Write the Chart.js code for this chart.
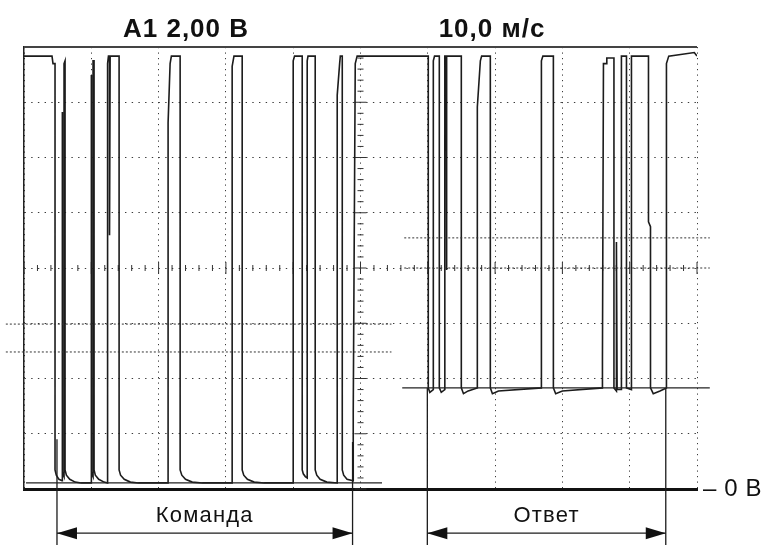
<!DOCTYPE html>
<html>
<head>
<meta charset="utf-8">
<script src="https://cdn.jsdelivr.net/npm/chart.js@4.4.1/dist/chart.umd.min.js"></script>
<style>
  html, body { margin:0; padding:0; background:#fff; }
  #wrap { width:764px; height:545px; }
</style>
</head>
<body>
<div id="wrap"><canvas id="scope" width="764" height="545"></canvas></div>
<script>
// time in ms (10 ms/div), voltage in V (2 V/div)
const sigT = [
 0, 4.16, 4.31, 4.61, 4.61, 4.8, 5.2, 5.65, 5.65, 5.75, 5.95, 5.95, 6.1, 6.1, 6.3, 6.8, 7.6, 8.5,
 9.96, 9.96, 10.06, 10.26, 10.26, 10.41, 10.41, 10.6, 11.1, 11.9,
 12.42, 12.42, 12.55, 12.71, 12.71, 12.8, 14.13, 14.13, 14.35, 14.9, 15.8, 17.0,
 21.41, 21.41, 21.71, 21.9, 23.2, 23.2, 23.45, 24.0, 25.0, 26.5,
 30.93, 30.93, 31.2, 32.42, 32.42, 32.65, 33.2, 34.2, 35.7,
 40.0, 40.0, 40.2, 41.34, 41.34, 41.5, 41.8, 42.08, 42.08, 42.2, 43.27, 43.27, 43.5, 44.0, 45.0,
 46.54, 46.54, 46.9, 47.0, 47.29, 47.29, 47.5, 48.0, 48.92, 48.92, 49.22, 49.5,
 60.07, 60.07, 60.3, 60.82, 60.82, 61.0, 61.71, 61.71, 62.0, 62.53, 62.53, 62.75, 62.75, 62.85,
 64.98, 64.98, 65.3, 66.0, 67.36, 67.36, 67.81, 68.0, 69.29, 69.29, 69.6, 70.5,
 76.88, 76.88, 77.1, 78.66, 78.66, 79.0, 80.0,
 85.95, 85.95, 86.1, 86.5, 86.6, 87.66, 87.66, 88.03, 88.03, 88.13, 88.77, 88.77, 89.52, 89.52,
 90.26, 90.26, 92.79, 92.79, 93.09, 93.09, 93.5, 94.5, 95.46, 95.46, 95.8, 99.6, 100.0
];
const sigV = [
 15.67, 15.67, 15.4, 15.4, 0.69, 0.5, 0.35, 0.3, 13.65, 0.6, 0.45, 15.4, 15.5, 0.69, 0.5, 0.35, 0.25, 0.22,
 0.22, 14.99, 0.6, 0.45, 15.5, 15.5, 0.69, 0.5, 0.35, 0.25,
 0.22, 15.4, 15.67, 15.67, 9.19, 15.67, 15.67, 0.69, 0.5, 0.35, 0.25, 0.22,
 0.22, 13.25, 15.4, 15.67, 15.67, 0.69, 0.5, 0.35, 0.25, 0.22,
 0.22, 15.3, 15.67, 15.67, 0.69, 0.5, 0.35, 0.25, 0.22,
 0.22, 15.5, 15.67, 15.67, 0.69, 0.55, 0.45, 0.4, 15.5, 15.67, 15.67, 0.69, 0.5, 0.35, 0.25,
 0.22, 14.26, 15.4, 15.67, 15.67, 0.69, 0.5, 0.35, 0.3, 2.78, 15.4, 15.67,
 15.67, 3.66, 3.5, 3.6, 15.5, 15.67, 15.67, 3.66, 3.5, 3.6, 15.67, 15.67, 7.93, 15.67,
 15.67, 3.66, 3.45, 3.55, 3.66, 13.83, 15.5, 15.67, 15.67, 3.66, 3.45, 3.55,
 3.66, 15.5, 15.67, 15.67, 3.66, 3.45, 3.55,
 3.66, 4.67, 15.4, 15.4, 15.6, 15.6, 3.66, 3.55, 8.94, 3.6, 3.6, 15.67, 15.67, 3.66,
 3.6, 15.67, 15.67, 9.67, 9.5, 3.66, 3.45, 3.55, 3.66, 15.4, 15.67, 15.8, 15.67
];

const cmdSpan = [4.9, 48.82];     // "Команда"
const ansSpan = [59.93, 95.36];   // "Ответ"
const cmdSpanTop = [1.8, 1.7];
const ansSpanTop = [3.66, 3.66];
const cmdLowV = 0.22;
const ansLowV = 3.66;
const cmdLowRange = [0.3, 53.2];
const ansLowRange = [56.2, 101.9];
const cmdCursorV = [5.97, 4.96];
const ansCursorV = [9.09, 8.0];
const cmdCursorRange = [-2.7, 54.6];
const ansCursorRange = [56.5, 101.9];
const arrowV = -1.6;
const labelV = -0.97;
const spanBottomV = -2.3;

const ink = '#1c1c1c';

function seg(x0, x1, y0, y1) { return [{x:x0, y:y0}, {x:x1, y:y1}]; }

const datasets = [];
datasets.push({ data: seg(0, 100, 16, 16), borderColor:'#444', borderWidth:2.2, clip:false });
datasets.push({ data: seg(cmdLowRange[0], cmdLowRange[1], cmdLowV, cmdLowV), borderColor:'#222', borderWidth:1.2, clip:false });
datasets.push({ data: seg(ansLowRange[0], ansLowRange[1], ansLowV, ansLowV), borderColor:'#222', borderWidth:1.2, clip:false });
cmdCursorV.forEach(v => datasets.push({ data: seg(cmdCursorRange[0], cmdCursorRange[1], v, v),
  borderColor:'#333', borderWidth:1, borderDash:[2,2], clip:false }));
ansCursorV.forEach(v => datasets.push({ data: seg(ansCursorRange[0], ansCursorRange[1], v, v),
  borderColor:'#333', borderWidth:1, borderDash:[2,2], clip:false }));
// span markers under the trace
[[cmdSpan, cmdSpanTop], [ansSpan, ansSpanTop]].forEach(([s, tops]) => {
  s.forEach((t, i) => datasets.push({ data: seg(t, t, tops[i], spanBottomV), borderColor:ink, borderWidth:1.3, clip:false }));
  datasets.push({ data: seg(s[0], s[1], arrowV, arrowV), borderColor:ink, borderWidth:1.3, clip:false });
});
datasets.push({ data: sigT.map((t, i) => ({x:t, y:sigV[i]})), borderColor:ink, borderWidth:1.6 });

const centerTicks = {
  id: 'centerTicks',
  beforeDatasetsDraw(chart) {
    const {ctx, scales:{x, y}} = chart;
    const cx = x.getPixelForValue(50), cy = y.getPixelForValue(8);
    ctx.save();
    ctx.strokeStyle = '#333';
    ctx.lineWidth = 1;
    ctx.beginPath();
    for (let v = 0; v <= 16.01; v += 0.4) {
      const p = y.getPixelForValue(v), h = Math.abs(v / 2 - Math.round(v / 2)) < 0.01 ? 6 : 3;
      ctx.moveTo(cx - h, p); ctx.lineTo(cx + h, p);
    }
    for (let t = 0; t <= 100.01; t += 2) {
      const p = x.getPixelForValue(t), h = Math.abs(t / 10 - Math.round(t / 10)) < 0.01 ? 6 : 3;
      ctx.moveTo(p, cy - h); ctx.lineTo(p, cy + h);
    }
    ctx.stroke();
    ctx.restore();
  }
};

const labels = {
  id: 'labels',
  afterDraw(chart) {
    const {ctx, scales:{x, y}} = chart;
    ctx.save();
    ctx.fillStyle = '#111';
    ctx.textAlign = 'center';
    ctx.textBaseline = 'alphabetic';
    ctx.font = "bold 26px 'Liberation Sans', Arial, sans-serif";
    ctx.letterSpacing = '1px';
    ctx.fillText('A1 2,00 B', 186, 37);
    ctx.fillText('10,0 м/с', 492, 37);
    ctx.font = "22px 'Liberation Sans', Arial, sans-serif";
    ctx.letterSpacing = '1.2px';
    ctx.textBaseline = 'middle';
    ctx.fillText('Команда', (x.getPixelForValue(cmdSpan[0]) + x.getPixelForValue(cmdSpan[1])) / 2, y.getPixelForValue(labelV));
    ctx.fillText('Ответ', (x.getPixelForValue(ansSpan[0]) + x.getPixelForValue(ansSpan[1])) / 2, y.getPixelForValue(labelV));
    ctx.font = "24px 'Liberation Sans', Arial, sans-serif";
    ctx.letterSpacing = '0.6px';
    ctx.textAlign = 'left';
    ctx.fillText('– 0 B', x.right + 6, y.getPixelForValue(0));
    // arrow heads
    const ay = y.getPixelForValue(arrowV);
    [cmdSpan, ansSpan].forEach(s => {
      const a = x.getPixelForValue(s[0]), b = x.getPixelForValue(s[1]);
      ctx.beginPath();
      ctx.moveTo(a, ay); ctx.lineTo(a + 20, ay - 6); ctx.lineTo(a + 20, ay + 6); ctx.closePath();
      ctx.moveTo(b, ay); ctx.lineTo(b - 20, ay - 6); ctx.lineTo(b - 20, ay + 6); ctx.closePath();
      ctx.fill();
    });
    ctx.restore();
  }
};

new Chart(document.getElementById('scope'), {
  type: 'line',
  data: { datasets },
  options: {
    responsive: false,
    animation: false,
    layout: { padding: { left: 24, right: 67, top: 47, bottom: 56 } },
    plugins: { legend: { display:false }, tooltip: { enabled:false } },
    elements: { point: { radius:0 }, line: { tension:0 } },
    scales: {
      x: {
        type: 'linear', min: 0, max: 100,
        ticks: { display:false, stepSize:10 },
        grid: { color:'#3a3a3a', lineWidth:1, drawTicks:false },
        border: { display:true, width:3, color:'#111', dash:[1.2, 4.3] }
      },
      y: {
        type: 'linear', min: 0, max: 16,
        ticks: { display:false, stepSize:2 },
        grid: { color:'#3a3a3a', lineWidth:1, drawTicks:false },
        border: { display:true, width:1.5, color:'#222', dash:[1.4, 5.3] }
      }
    }
  },
  plugins: [centerTicks, labels]
});
</script>
</body>
</html>
